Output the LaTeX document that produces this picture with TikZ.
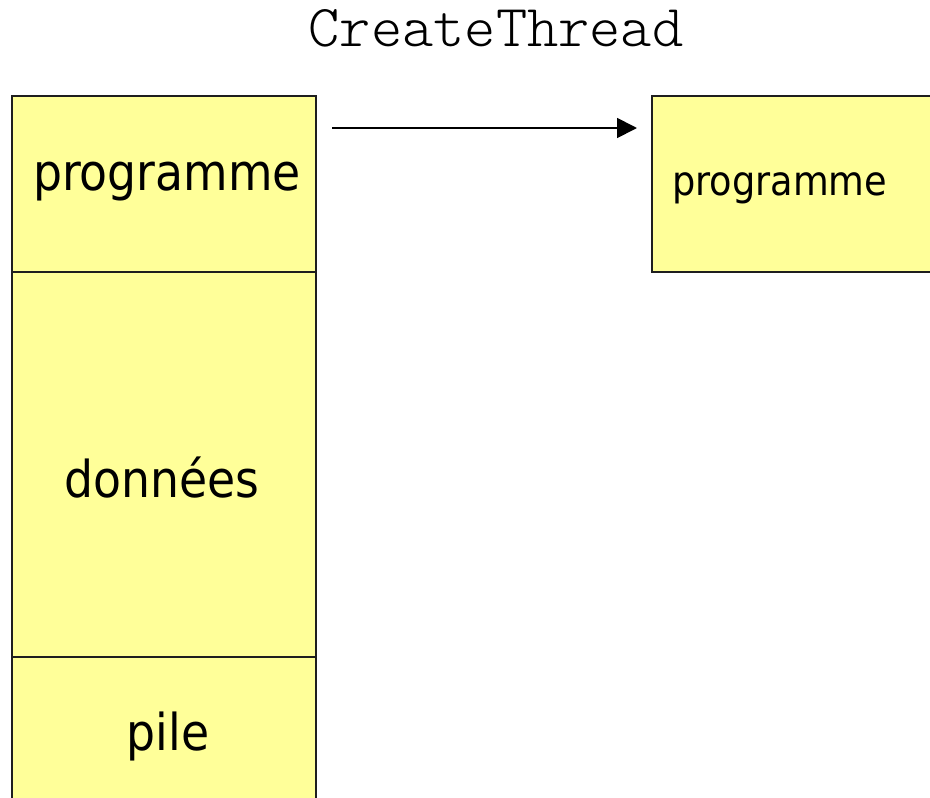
\documentclass[tikz,border=0pt]{standalone}
\usepackage{fontspec}
\setmainfont{DejaVu Sans}[FakeStretch=0.9]
\newfontfamily\lightmono{lmmonolt10-regular.otf}
\usetikzlibrary{arrows.meta}
\definecolor{segfill}{RGB}{255,255,153}
\definecolor{segline}{RGB}{30,30,30}
\tikzset{
  x=1pt, y=-1pt,
  segment/.style={draw=segline, fill=segfill, line width=1.6pt},
  bigtext/.style={inner sep=0pt, anchor=base, font=\fontsize{50.8}{60}\selectfont},
  smalltext/.style={inner sep=0pt, anchor=base west, font=\fontsize{40.8}{48}\selectfont},
  title/.style={inner sep=0pt, anchor=base, font=\lightmono\fontsize{59.5}{68}\selectfont},
  call/.style={line width=1.8pt, -{Triangle[length=20pt, width=20pt]}}
}
\begin{document}
\begin{tikzpicture}
\useasboundingbox (0,0) rectangle (930,798);
\begin{scope}
  \clip (0,0) rectangle (930,798);
  % process address space: code, data and stack segments
  \draw[segment] (12,96) rectangle (316,272);
  \draw[segment] (12,272) rectangle (316,657);
  \draw[segment] (12,657) rectangle (316,820);
  % new thread's code
  \draw[segment] (652,96) rectangle (950,272);
\end{scope}
\node[title] (ct) at (496,46) {CreateThread};
\node[bigtext] (prog) at (167,190) {programme};
\node[bigtext] (data) at (162,497) {données};
\node[bigtext] (stack) at (168,750) {pile};
\node[smalltext] (tprog) at (672,195) {programme};
\coordinate (from) at (332,128);
\coordinate (to) at (637,128);
\draw[call] (from) -- (to);
\end{tikzpicture}
\end{document}
